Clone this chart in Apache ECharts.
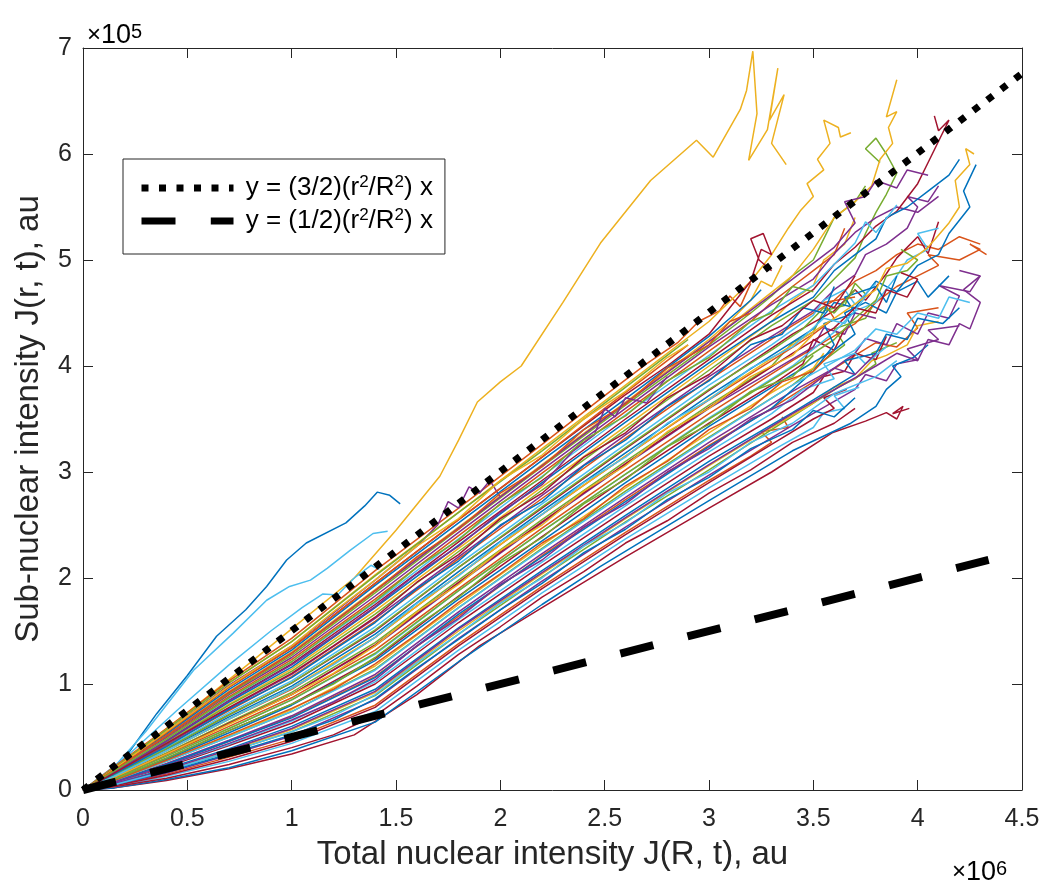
<!DOCTYPE html>
<html>
<head>
<meta charset="utf-8">
<script src="https://cdn.jsdelivr.net/npm/echarts@6/dist/echarts.min.js"></script>
<style>
html,body{margin:0;padding:0;background:#fff;}
#chart{width:1044px;height:888px;}
</style>
</head>
<body>
<div id="chart"></div>
<script>
// Units: x in 1e6 au, y in 1e5 au (as the axis multipliers show)
const xTicks = [0, 0.5, 1, 1.5, 2, 2.5, 3, 3.5, 4, 4.5];
const yTicks = [0, 1, 2, 3, 4, 5, 6, 7];
const colorNames = ['blue', 'orange', 'yellow', 'purple', 'green', 'cyan', 'red'];
const colors = ['#0072BD', '#D95319', '#EDB120', '#7E2F8E', '#77AC30', '#4DBEEE', '#A2142F'];

const dottedLine = [[0, 0], [4.5, 6.76]];
const dashedLine = [[0, 0], [4.34, 2.17]];
const dottedName = 'y = (3/2)(r2/R2) x';
const dashedName = 'y = (1/2)(r2/R2) x';

// trajectories: flat lists x0,y0,x1,y1,...
const trajBlue = [
  [0,0, 0.1,0.12, 0.2,0.3, 0.353,0.72, 0.5,1.08, 0.64,1.45, 0.78,1.70, 0.88,1.92, 0.976,2.17, 1.07,2.33, 1.26,2.52, 1.35,2.68, 1.41,2.81, 1.47,2.78, 1.52,2.70],
  [0,0, 0.15,0.02, 0.4,0.1, 0.7,0.21, 1.0,0.37, 1.4,0.64, 1.8,1.21, 2.2,1.75, 2.48,2.11, 3.0,2.73, 3.4,3.2, 3.68,3.46, 3.8,3.62, 3.85,3.78, 3.92,3.9, 3.88,4.0, 3.98,4.08, 4.05,4.2],
  [0,0, 0.15,0.06, 0.4,0.2, 0.7,0.39, 1.0,0.6, 1.4,0.95, 1.8,1.53, 2.2,2.07, 2.6,2.59, 3.0,3.1, 3.4,3.56, 3.6,3.8, 3.7,3.92, 3.65,4.05, 3.8,4.12, 3.85,4.3, 3.95,4.25, 4.0,4.45, 4.12,4.4, 4.2,4.55],
  [0,0, 0.15,0.1, 0.4,0.29, 0.7,0.54, 1.0,0.8, 1.4,1.22, 1.8,1.8, 2.2,2.35, 2.6,2.9, 3.0,3.43, 3.4,3.92, 3.6,4.15, 3.7,4.3, 3.65,4.5, 3.75,4.6, 3.85,4.5, 3.9,4.7, 4.0,4.8, 4.05,4.65, 4.15,4.85],
  [0,0, 0.15,0.13, 0.4,0.38, 0.7,0.69, 1.0,0.98, 1.4,1.47, 1.8,2.06, 2.2,2.63, 2.6,3.18, 3.0,3.72, 3.3,4.1, 3.5,4.35, 3.6,4.6, 3.7,4.55, 3.8,4.8, 3.9,4.7, 4.0,4.95, 4.1,5.05, 4.15,5.25, 4.25,5.5, 4.22,5.65, 4.28,5.9],
  [0,0, 0.15,0.17, 0.4,0.46, 0.7,0.83, 1.0,1.16, 1.4,1.72, 1.8,2.31, 2.2,2.9, 2.6,3.47, 3.0,4.03, 3.3,4.42, 3.5,4.65, 3.6,4.9, 3.7,5.05, 3.8,5.2, 3.85,5.4, 3.95,5.5, 4.05,5.65, 4.15,5.8, 4.2,5.95],
  [0,0, 0.15,0.2, 0.4,0.53, 0.7,0.95, 1.0,1.32, 1.4,1.93, 1.8,2.52, 2.2,3.11, 2.6,3.69, 3.0,4.28, 3.1,4.45, 3.2,4.62, 3.25,4.72],
  [0,0, 0.15,0.08, 0.4,0.24, 0.7,0.46, 1.0,0.68, 1.4,1.06, 1.8,1.66, 2.2,2.2, 2.6,2.72, 3.0,3.24, 3.3,3.6, 3.5,3.95, 3.6,4.2, 3.55,4.4, 3.7,4.5, 3.65,4.65, 3.8,4.75, 3.85,4.6, 3.9,4.85],
  [0,0, 0.15,0.05, 0.4,0.17, 0.7,0.34, 1.0,0.52, 1.2,0.66, 1.4,0.86, 1.6,1.15, 1.8,1.42, 2.0,1.7, 2.2,1.95, 2.4,2.24, 2.6,2.46, 2.8,2.74, 3.0,2.95, 3.2,3.22, 3.4,3.4, 3.5,3.58, 3.6,3.52, 3.7,3.7],
  [0,0, 0.15,0.15, 0.4,0.41, 0.7,0.76, 1.0,1.06, 1.2,1.32, 1.4,1.58, 1.6,1.9, 1.8,2.16, 2.0,2.5, 2.2,2.72, 2.4,3.06, 2.6,3.3, 2.8,3.62, 3.0,3.86, 3.2,4.2, 3.35,4.3, 3.45,4.55, 3.55,4.5, 3.6,4.75]
];
const trajOrange = [
  [0,0, 0.15,0.04, 0.4,0.15, 0.7,0.31, 1.0,0.48, 1.4,0.8, 1.8,1.38, 2.2,1.92, 2.6,2.43, 3.0,2.92, 3.2,3.15, 3.3,3.28, 3.25,3.38, 3.38,3.42, 3.35,3.52],
  [0,0, 0.15,0.08, 0.4,0.24, 0.7,0.46, 1.0,0.69, 1.4,1.07, 1.8,1.64, 2.2,2.21, 2.6,2.74, 3.0,3.25, 3.3,3.6, 3.5,3.85, 3.7,4.1, 3.8,4.22, 3.9,4.18, 4.0,4.36, 3.95,4.5, 4.1,4.55],
  [0,0, 0.15,0.11, 0.4,0.33, 0.7,0.6, 1.0,0.87, 1.4,1.32, 1.8,1.9, 2.2,2.47, 2.6,3.02, 3.0,3.55, 3.4,4.05, 3.7,4.4, 3.8,4.6, 3.9,4.75, 4.0,4.85, 4.1,4.95, 4.05,5.05, 4.2,5.0, 4.3,5.1, 4.25,5.15, 4.33,5.05],
  [0,0, 0.15,0.15, 0.4,0.42, 0.7,0.75, 1.0,1.07, 1.4,1.59, 1.8,2.18, 2.2,2.75, 2.6,3.32, 3.0,3.87, 3.4,4.38, 3.6,4.62, 3.7,4.8, 3.8,4.9, 3.9,5.05, 4.0,5.15, 4.1,5.1, 4.2,5.22, 4.3,5.15],
  [0,0, 0.15,0.18, 0.4,0.49, 0.7,0.88, 1.0,1.23, 1.4,1.8, 1.8,2.4, 2.2,2.99, 2.6,3.57, 3.0,4.14, 3.2,4.42, 3.3,4.6, 3.4,4.75, 3.5,4.9, 3.6,5.05, 3.65,5.3],
  [0,0, 0.15,0.22, 0.4,0.58, 0.7,1.03, 1.0,1.43, 1.4,2.07, 1.8,2.66, 2.2,3.26, 2.5,3.72, 2.7,4.02, 2.85,4.22, 2.95,4.42, 3.05,4.52, 3.1,4.66, 3.15,4.56, 3.2,4.78],
  [0,0, 0.15,0.13, 0.4,0.37, 0.7,0.67, 1.0,0.95, 1.4,1.44, 1.8,2.03, 2.2,2.6, 2.6,3.15, 3.0,3.68, 3.3,4.05, 3.5,4.3, 3.6,4.45, 3.55,4.6, 3.7,4.65],
  [0,0, 0.15,0.2, 0.4,0.54, 0.7,0.97, 1.0,1.34, 1.4,1.95, 1.8,2.55, 2.2,3.14, 2.5,3.6, 2.7,3.9, 2.8,4.05, 2.9,4.2],
  [0,0, 0.15,0.09, 0.4,0.28, 0.7,0.52, 1.0,0.77, 1.2,0.95, 1.4,1.19, 1.6,1.47, 1.8,1.77, 2.0,2.04, 2.2,2.33, 2.4,2.56, 2.6,2.87, 2.8,3.1, 3.0,3.4, 3.2,3.6, 3.35,3.85, 3.5,3.95, 3.6,4.15],
  [0,0, 0.15,0.19, 0.4,0.51, 0.7,0.92, 1.0,1.29, 1.2,1.58, 1.4,1.88, 1.6,2.2, 1.8,2.46, 2.0,2.8, 2.2,3.05, 2.4,3.4, 2.6,3.64, 2.8,3.98, 3.0,4.2, 3.1,4.42, 3.2,4.5]
];
const trajYellow = [
  [0,0, 0.2,0.28, 0.5,0.73, 0.8,1.2, 1.0,1.52, 1.3,2.0, 1.5,2.45, 1.71,2.96, 1.8,3.3, 1.89,3.66, 2.0,3.85, 2.1,4.0, 2.3,4.6, 2.48,5.16, 2.72,5.75, 2.94,6.13, 3.02,5.97, 3.15,6.42, 3.18,6.6, 3.21,6.97, 3.23,6.38, 3.19,5.94, 3.28,6.23, 3.33,6.81, 3.29,6.32, 3.36,6.56, 3.3,6.1, 3.37,5.9],
  [0,0, 0.15,0.06, 0.4,0.19, 0.7,0.37, 1.0,0.57, 1.4,0.92, 1.8,1.5, 2.2,2.04, 2.6,2.56, 3.0,3.06, 3.3,3.42, 3.5,3.65, 3.6,3.8, 3.7,3.88, 3.78,4.05, 3.85,4.1, 3.95,4.2, 4.0,4.38, 4.1,4.42],
  [0,0, 0.15,0.09, 0.4,0.28, 0.7,0.51, 1.0,0.76, 1.4,1.17, 1.8,1.75, 2.2,2.31, 2.6,2.85, 3.0,3.37, 3.3,3.75, 3.5,3.98, 3.55,4.12],
  [0,0, 0.15,0.16, 0.4,0.45, 0.7,0.81, 1.0,1.14, 1.4,1.69, 1.8,2.28, 2.2,2.86, 2.6,3.43, 3.0,4.0, 3.3,4.42, 3.4,4.62, 3.5,4.76, 3.55,5.0, 3.65,5.15, 3.7,5.4],
  [0,0, 0.15,0.19, 0.4,0.52, 0.7,0.93, 1.0,1.3, 1.4,1.89, 1.8,2.48, 2.2,3.07, 2.6,3.66, 3.0,4.25, 3.1,4.42, 3.2,4.62, 3.25,4.8, 3.3,4.75, 3.35,4.95],
  [0,0, 0.15,0.21, 0.4,0.57, 0.7,1.01, 1.0,1.4, 1.4,2.03, 1.8,2.62, 2.2,3.22, 2.6,3.82, 3.0,4.42, 3.2,4.8, 3.3,5.05, 3.38,5.3, 3.44,5.47, 3.5,5.6, 3.47,5.72, 3.55,5.85, 3.52,5.95, 3.58,6.1, 3.55,6.32, 3.62,6.25, 3.63,6.16, 3.68,6.2],
  [0,0, 0.15,0.19, 0.4,0.51, 0.7,0.92, 1.0,1.29, 1.4,1.88, 1.8,2.47, 2.2,3.06, 2.6,3.65, 3.0,4.23, 3.4,4.85, 3.5,5.1, 3.6,5.4, 3.7,5.55, 3.78,5.7, 3.82,5.95, 3.88,6.1, 3.86,6.25, 3.9,6.4, 3.85,6.35, 3.9,6.7],
  [0,0, 0.15,0.13, 0.4,0.37, 0.7,0.67, 1.0,0.96, 1.4,1.44, 1.8,2.03, 2.2,2.6, 2.6,3.15, 3.0,3.69, 3.4,4.2, 3.6,4.45, 3.8,4.72, 3.85,4.92, 3.95,4.97, 4.05,5.12, 4.15,5.35, 4.2,5.5, 4.18,5.75, 4.25,5.9, 4.23,6.05, 4.27,6.0],
  [0,0, 0.15,0.2, 0.4,0.55, 0.7,0.98, 1.0,1.36, 1.2,1.68, 1.4,1.98, 1.6,2.3, 1.8,2.56, 2.0,2.92, 2.2,3.16, 2.4,3.5, 2.6,3.76, 2.8,4.08, 2.9,4.2],
  [0,0, 0.15,0.12, 0.4,0.34, 0.7,0.62, 1.0,0.9, 1.2,1.1, 1.4,1.36, 1.6,1.68, 1.8,1.94, 2.0,2.26, 2.2,2.5, 2.4,2.82, 2.6,3.06, 2.8,3.38, 3.0,3.6, 3.2,3.9, 3.4,4.1, 3.5,4.3]
];
const trajPurple = [
  [0,0, 0.15,0.05, 0.4,0.16, 0.7,0.33, 1.0,0.51, 1.4,0.85, 1.8,1.43, 2.2,1.97, 2.6,2.48, 3.0,2.97, 3.4,3.44, 3.7,3.78, 3.75,3.92, 3.85,3.86, 3.9,4.02, 4.0,4.06, 3.95,4.16, 4.1,4.25, 4.05,4.34, 4.2,4.38],
  [0,0, 0.15,0.08, 0.4,0.25, 0.7,0.47, 1.0,0.7, 1.4,1.09, 1.8,1.68, 2.2,2.23, 2.6,2.76, 3.0,3.28, 3.4,3.76, 3.6,3.98, 3.7,4.12, 3.75,4.26, 3.85,4.2, 3.9,4.4, 4.0,4.3, 4.05,4.5, 4.15,4.45, 4.2,4.66, 4.1,4.76, 4.25,4.7, 4.3,4.85, 4.2,4.9],
  [0,0, 0.15,0.12, 0.4,0.34, 0.7,0.63, 1.0,0.9, 1.4,1.36, 1.8,1.95, 2.2,2.52, 2.6,3.07, 3.0,3.6, 3.3,3.95, 3.5,4.18, 3.55,4.36, 3.65,4.3, 3.7,4.5, 3.8,4.45],
  [0,0, 0.15,0.15, 0.4,0.43, 0.7,0.77, 1.0,1.09, 1.4,1.62, 1.8,2.2, 2.2,2.78, 2.6,3.35, 3.0,3.9, 3.3,4.28, 3.5,4.52, 3.6,4.72, 3.7,4.86, 3.75,5.05, 3.85,5.15, 3.95,5.3, 4.0,5.5, 3.95,5.6, 4.05,5.55, 4.1,5.7],
  [0,0, 0.15,0.19, 0.4,0.5, 0.7,0.9, 1.0,1.25, 1.4,1.83, 1.8,2.43, 2.2,3.02, 2.6,3.6, 3.0,4.18, 3.3,4.58, 3.5,4.82, 3.6,5.06, 3.7,5.26, 3.8,5.4, 3.9,5.5, 4.0,5.45, 4.1,5.6],
  [0,0, 0.15,0.2, 0.4,0.55, 0.7,0.99, 1.0,1.36, 1.4,1.98, 1.6,2.3, 1.7,2.5, 1.75,2.72, 1.8,2.66, 1.85,2.86, 1.9,2.8, 1.95,2.92, 2.0,2.76],
  [0,0, 0.15,0.06, 0.4,0.19, 0.7,0.38, 1.0,0.58, 1.4,0.93, 1.8,1.52, 2.2,2.05, 2.6,2.57, 3.0,3.07, 3.4,3.55, 3.8,4.0, 3.9,4.12, 4.0,4.05, 4.05,4.25, 4.15,4.2, 4.2,4.4, 4.25,4.35, 4.3,4.6, 4.22,4.72, 4.3,4.85],
  [0,0, 0.15,0.19, 0.4,0.51, 0.7,0.92, 1.0,1.29, 1.4,1.88, 1.8,2.47, 2.2,3.06, 2.6,3.65, 3.0,4.23, 3.4,4.82, 3.6,5.12, 3.7,5.35, 3.65,5.55, 3.75,5.6, 3.8,5.75, 3.9,5.68, 3.95,5.85, 4.05,5.8],
  [0,0, 0.15,0.07, 0.4,0.23, 0.7,0.44, 1.0,0.66, 1.2,0.83, 1.4,1.04, 1.6,1.36, 1.8,1.62, 2.0,1.94, 2.2,2.17, 2.4,2.48, 2.6,2.7, 2.8,3.0, 3.0,3.22, 3.2,3.5, 3.4,3.68, 3.6,3.98, 3.7,3.92, 3.8,4.12],
  [0,0, 0.15,0.17, 0.4,0.46, 0.7,0.84, 1.0,1.18, 1.2,1.45, 1.4,1.73, 1.6,2.04, 1.8,2.3, 2.0,2.62, 2.2,2.88, 2.35,3.2, 2.45,3.35, 2.5,3.6, 2.55,3.52, 2.6,3.7, 2.7,3.65, 2.8,3.9]
];
const trajGreen = [
  [0,0, 0.15,0.05, 0.4,0.18, 0.7,0.36, 1.0,0.55, 1.4,0.89, 1.8,1.47, 2.2,2.01, 2.6,2.53, 3.0,3.02, 3.3,3.4, 3.5,3.65, 3.62,3.8, 3.7,3.88, 3.8,4.02, 3.78,4.12, 3.9,4.22],
  [0,0, 0.15,0.09, 0.4,0.27, 0.7,0.5, 1.0,0.74, 1.4,1.14, 1.8,1.72, 2.2,2.28, 2.6,2.82, 3.0,3.33, 3.4,3.82, 3.55,4.05, 3.65,4.2, 3.6,4.35, 3.75,4.45, 3.8,4.62],
  [0,0, 0.15,0.12, 0.4,0.35, 0.7,0.64, 1.0,0.92, 1.4,1.39, 1.8,1.98, 2.2,2.55, 2.6,3.1, 3.0,3.63, 3.3,4.0, 3.4,4.22, 3.5,4.32, 3.55,4.52, 3.65,4.57, 3.7,4.78, 3.75,4.68],
  [0,0, 0.15,0.16, 0.4,0.44, 0.7,0.8, 1.0,1.12, 1.4,1.66, 1.8,2.25, 2.2,2.83, 2.6,3.4, 3.0,3.96, 3.3,4.38, 3.5,4.62, 3.6,4.82, 3.7,5.02, 3.75,5.25, 3.8,5.45, 3.85,5.62, 3.9,5.82, 3.85,6.0, 3.8,6.15, 3.75,6.05, 3.82,5.92],
  [0,0, 0.15,0.19, 0.4,0.51, 0.7,0.91, 1.0,1.27, 1.4,1.86, 1.8,2.46, 2.2,3.05, 2.6,3.63, 3.0,4.2, 3.2,4.5, 3.3,4.66, 3.4,4.85, 3.5,5.0, 3.55,5.2, 3.6,5.4, 3.7,5.55, 3.75,5.7],
  [0,0, 0.15,0.21, 0.4,0.57, 0.7,1.01, 1.0,1.4, 1.4,2.02, 1.8,2.62, 2.2,3.2, 2.5,3.65, 2.7,3.95, 2.8,4.1, 2.9,4.25],
  [0,0, 0.15,0.11, 0.4,0.32, 0.7,0.58, 1.0,0.85, 1.4,1.29, 1.8,1.88, 2.2,2.44, 2.6,2.98, 3.0,3.5, 3.4,3.99, 3.6,4.25, 3.7,4.45, 3.8,4.62, 3.85,4.85, 3.95,4.9, 4.0,5.0, 3.92,5.1],
  [0,0, 0.15,0.14, 0.4,0.39, 0.7,0.71, 1.0,1.01, 1.4,1.51, 1.8,2.1, 2.2,2.67, 2.6,3.23, 3.0,3.78, 3.3,4.15, 3.45,4.35, 3.55,4.55, 3.6,4.5, 3.7,4.72],
  [0,0, 0.15,0.1, 0.4,0.3, 0.7,0.56, 1.0,0.81, 1.2,1.0, 1.4,1.25, 1.6,1.55, 1.8,1.82, 2.0,2.14, 2.2,2.38, 2.4,2.7, 2.6,2.93, 2.8,3.24, 3.0,3.45, 3.2,3.76, 3.4,3.9, 3.5,4.1],
  [0,0, 0.15,0.18, 0.4,0.48, 0.7,0.87, 1.0,1.21, 1.2,1.5, 1.4,1.78, 1.6,2.1, 1.8,2.36, 2.0,2.7, 2.2,2.95, 2.4,3.3, 2.6,3.53, 2.8,3.86, 3.0,4.08, 3.2,4.42, 3.3,4.5, 3.4,4.75, 3.5,4.7]
];
const trajCyan = [
  [0,0, 0.15,0.22, 0.3,0.55, 0.53,1.13, 0.72,1.48, 0.88,1.79, 0.99,1.92, 1.09,1.98, 1.17,2.09, 1.28,2.26, 1.39,2.42, 1.46,2.44],
  [0,0, 0.2,0.3, 0.45,0.75, 0.7,1.18, 0.9,1.5, 1.05,1.72, 1.15,1.85, 1.22,1.84, 1.3,2.0, 1.38,2.12, 1.42,2.08],
  [0,0, 0.15,0.03, 0.4,0.13, 0.7,0.27, 1.0,0.44, 1.4,0.74, 1.8,1.32, 2.2,1.86, 2.6,2.37, 3.0,2.85, 3.3,3.2, 3.5,3.42, 3.55,3.56, 3.65,3.6, 3.6,3.72, 3.72,3.8],
  [0,0, 0.15,0.07, 0.4,0.23, 0.7,0.43, 1.0,0.65, 1.4,1.02, 1.8,1.61, 2.2,2.15, 2.6,2.68, 3.0,3.19, 3.3,3.55, 3.45,3.78, 3.6,3.88, 3.55,4.02, 3.7,4.12, 3.75,4.02, 3.85,4.18],
  [0,0, 0.15,0.11, 0.4,0.32, 0.7,0.58, 1.0,0.85, 1.4,1.28, 1.8,1.88, 2.2,2.44, 2.6,2.98, 3.0,3.51, 3.4,4.0, 3.6,4.32, 3.7,4.52, 3.8,4.6, 3.9,4.85, 3.95,5.0, 4.05,5.1, 4.0,5.25, 4.1,5.3],
  [0,0, 0.15,0.14, 0.4,0.4, 0.7,0.73, 1.0,1.03, 1.4,1.54, 1.8,2.13, 2.2,2.7, 2.6,3.26, 3.0,3.82, 3.3,4.2, 3.5,4.48, 3.55,4.62, 3.65,4.72, 3.7,4.58, 3.8,4.78],
  [0,0, 0.15,0.18, 0.4,0.48, 0.7,0.86, 1.0,1.21, 1.4,1.77, 1.8,2.37, 2.2,2.96, 2.6,3.54, 3.0,4.1, 3.3,4.52, 3.5,4.76, 3.6,4.96, 3.7,5.16, 3.75,5.36, 3.8,5.26, 3.9,5.52],
  [0,0, 0.15,0.09, 0.4,0.27, 0.7,0.5, 1.0,0.74, 1.4,1.13, 1.8,1.72, 2.2,2.27, 2.6,2.8, 3.0,3.32, 3.4,3.82, 3.7,4.15, 3.8,4.35, 3.9,4.3, 4.0,4.5, 4.1,4.45, 4.15,4.65, 4.25,4.6],
  [0,0, 0.15,0.05, 0.4,0.18, 0.7,0.36, 1.0,0.55, 1.2,0.7, 1.4,0.9, 1.6,1.2, 1.8,1.47, 2.0,1.76, 2.2,2.0, 2.4,2.3, 2.6,2.52, 2.8,2.8, 3.0,3.0, 3.2,3.28, 3.4,3.46, 3.6,3.74, 3.8,3.9, 3.9,4.05],
  [0,0, 0.15,0.13, 0.4,0.37, 0.7,0.67, 1.0,0.96, 1.2,1.18, 1.4,1.44, 1.6,1.76, 1.8,2.02, 2.0,2.34, 2.2,2.6, 2.4,2.9, 2.6,3.14, 2.8,3.46, 3.0,3.68, 3.2,3.98, 3.4,4.18, 3.55,4.45, 3.65,4.4, 3.75,4.65]
];
const trajRed = [
  [0,0, 0.15,0.02, 0.4,0.09, 0.7,0.2, 1.0,0.34, 1.3,0.52, 1.6,0.9, 1.9,1.36, 2.2,1.72, 2.6,2.2, 3.0,2.66, 3.3,3.0, 3.59,3.37, 3.75,3.48, 3.85,3.56, 3.9,3.5, 3.93,3.62, 3.88,3.55, 3.96,3.6],
  [0,0, 0.15,0.07, 0.4,0.22, 0.7,0.42, 1.0,0.63, 1.4,1.0, 1.8,1.58, 2.2,2.12, 2.6,2.64, 3.0,3.15, 3.3,3.5, 3.5,3.75, 3.55,3.9, 3.65,3.95, 3.7,4.12, 3.8,4.06, 3.85,4.28],
  [0,0, 0.15,0.1, 0.4,0.3, 0.7,0.56, 1.0,0.81, 1.4,1.24, 1.8,1.83, 2.2,2.39, 2.6,2.94, 3.0,3.46, 3.3,3.82, 3.45,4.02, 3.5,4.25, 3.6,4.15, 3.65,4.35],
  [0,0, 0.15,0.14, 0.4,0.39, 0.7,0.71, 1.0,1.01, 1.4,1.5, 1.8,2.1, 2.2,2.66, 2.6,3.22, 3.0,3.77, 3.4,4.3, 3.6,4.52, 3.7,4.72, 3.75,4.62, 3.85,4.87, 3.9,5.02, 4.0,5.22, 4.05,5.06, 4.1,5.36],
  [0,0, 0.15,0.17, 0.4,0.47, 0.7,0.85, 1.0,1.19, 1.4,1.75, 1.8,2.34, 2.2,2.92, 2.6,3.5, 3.0,4.06, 3.3,4.48, 3.5,4.72, 3.6,4.96, 3.7,5.12, 3.8,5.32, 3.9,5.46, 4.0,5.72, 4.05,5.92, 4.1,6.12, 4.15,6.32, 4.1,6.22, 4.08,6.36],
  [0,0, 0.15,0.2, 0.4,0.54, 0.7,0.97, 1.0,1.34, 1.4,1.95, 1.8,2.55, 2.2,3.14, 2.6,3.73, 2.8,4.0, 2.9,4.15, 3.0,4.3, 3.1,4.55, 3.2,4.8, 3.25,5.1, 3.3,5.05, 3.26,5.25, 3.2,5.2, 3.24,5.0, 3.3,4.9],
  [0,0, 0.15,0.04, 0.4,0.14, 0.7,0.29, 1.0,0.46, 1.4,0.78, 1.8,1.36, 2.2,1.9, 2.6,2.41, 3.0,2.9, 3.3,3.26, 3.5,3.5, 3.6,3.6, 3.55,3.7, 3.66,3.78],
  [0,0, 0.15,0.12, 0.4,0.34, 0.7,0.63, 1.0,0.9, 1.4,1.37, 1.8,1.96, 2.2,2.53, 2.6,3.08, 3.0,3.61, 3.4,4.12, 3.6,4.36, 3.7,4.55, 3.8,4.5, 3.85,4.72, 3.95,4.65, 4.0,4.82, 3.92,4.88],
  [0,0, 0.15,0.03, 0.4,0.11, 0.7,0.24, 1.0,0.4, 1.2,0.52, 1.4,0.7, 1.6,0.98, 1.8,1.28, 2.0,1.54, 2.2,1.82, 2.4,2.06, 2.6,2.33, 2.8,2.54, 3.0,2.8, 3.2,3.02, 3.4,3.28, 3.6,3.46, 3.7,3.6],
  [0,0, 0.15,0.16, 0.4,0.44, 0.7,0.78, 1.0,1.1, 1.2,1.36, 1.4,1.63, 1.6,1.96, 1.8,2.22, 2.0,2.56, 2.2,2.8, 2.4,3.14, 2.6,3.37, 2.8,3.7, 3.0,3.92, 3.2,4.25, 3.35,4.38, 3.5,4.62, 3.6,4.55, 3.7,4.85]
];

const groups = [trajBlue, trajOrange, trajYellow, trajPurple, trajGreen, trajCyan, trajRed];

function toPairs(flat) {
  const out = [];
  for (let i = 0; i < flat.length; i += 2) out.push([flat[i], flat[i + 1]]);
  return out;
}

const FONT = "'Liberation Sans', Arial, Helvetica, sans-serif";
const TXT = '#262626';

const series = [];
const maxLen = Math.max(...groups.map(g => g.length));
for (let i = 0; i < maxLen; i++) {
  groups.forEach((g, gi) => {
    if (g[i]) {
      series.push({
        type: 'line',
        name: colorNames[gi] + i,
        data: toPairs(g[i]),
        showSymbol: false,
        symbol: 'none',
        silent: true,
        lineStyle: { color: colors[gi], width: 1.5 },
        itemStyle: { color: colors[gi] },
        z: 2
      });
    }
  });
}
series.push({
  type: 'line', name: dottedName, data: dottedLine, symbol: 'none', silent: true,
  lineStyle: { color: '#000', width: 7, type: [7, 10.5], cap: 'butt' },
  itemStyle: { color: '#000' }, z: 4
});
series.push({
  type: 'line', name: dashedName, data: dashedLine, symbol: 'none', silent: true,
  lineStyle: { color: '#000', width: 8, type: [34, 35.3], cap: 'butt' },
  itemStyle: { color: '#000' }, z: 4
});

const legendRich = {
  t: { fontSize: 26, lineHeight: 28, color: '#000', fontFamily: FONT },
  s: { fontSize: 17, lineHeight: 12, verticalAlign: 'top', color: '#000', fontFamily: FONT }
};

const expRich = {
  x: { fontSize: 24, lineHeight: 26, color: '#555', fontFamily: FONT },
  b: { fontSize: 27, lineHeight: 26, color: TXT, fontFamily: FONT },
  s: { fontSize: 20, lineHeight: 8, verticalAlign: 'top', color: TXT, fontFamily: FONT }
};

const chart = echarts.init(document.getElementById('chart'), null, { renderer: 'canvas' });
chart.setOption({
  animation: false,
  backgroundColor: '#fff',
  textStyle: { fontFamily: FONT },
  grid: { left: 83, right: 22, top: 48, bottom: 98, containLabel: false },
  legend: {
    data: [dottedName, dashedName],
    orient: 'vertical',
    left: 123, top: 159,
    padding: [15, 12, 20, 15],
    itemWidth: 92, itemHeight: 10, itemGap: 6,
    backgroundColor: '#fff',
    borderColor: TXT, borderWidth: 1,
    selectedMode: false,
    lineStyle: { width: 7 },
    itemStyle: { color: 'rgba(0,0,0,0)', borderWidth: 0, opacity: 0 },
    formatter: function (name) {
      const frac = name === dottedName ? '3/2' : '1/2';
      return '{t| y = (' + frac + ')(r}{s|2}{t|/R}{s|2}{t|) x}';
    },
    textStyle: { rich: legendRich, color: '#000' }
  },
  xAxis: [{
    type: 'value', min: 0, max: 4.5, interval: 0.5,
    name: 'Total nuclear intensity J(R, t), au',
    nameLocation: 'middle', nameGap: 48,
    nameTextStyle: { fontSize: 33, color: TXT, fontFamily: FONT },
    axisLine: { show: true, lineStyle: { color: TXT, width: 1 } },
    axisTick: { show: true, inside: true, length: 10, lineStyle: { color: TXT } },
    axisLabel: { fontSize: 25, color: TXT, margin: 17, fontFamily: FONT,
      formatter: v => { const i = xTicks.indexOf(v); return i >= 0 ? String(xTicks[i]) : ''; } },
    splitLine: { show: false }
  }, {
    type: 'value', min: 0, max: 4.5, interval: 0.5, position: 'top',
    axisLine: { show: true, onZero: false, lineStyle: { color: TXT, width: 1 } },
    axisTick: { show: true, inside: true, length: 10, lineStyle: { color: TXT } },
    axisLabel: { show: false }, splitLine: { show: false }
  }],
  yAxis: [{
    type: 'value', min: 0, max: 7, interval: 1,
    name: 'Sub-nuclear intensity J(r, t), au',
    nameLocation: 'middle', nameGap: 38,
    nameTextStyle: { fontSize: 33, color: TXT, fontFamily: FONT },
    axisLine: { show: true, lineStyle: { color: TXT, width: 1 } },
    axisTick: { show: true, inside: true, length: 10, lineStyle: { color: TXT } },
    axisLabel: { fontSize: 25, color: TXT, margin: 11, fontFamily: FONT,
      formatter: v => { const i = yTicks.indexOf(v); return i >= 0 ? String(yTicks[i]) : ''; } },
    splitLine: { show: false }
  }, {
    type: 'value', min: 0, max: 7, interval: 1, position: 'right',
    axisLine: { show: true, onZero: false, lineStyle: { color: TXT, width: 1 } },
    axisTick: { show: true, inside: true, length: 10, lineStyle: { color: TXT } },
    axisLabel: { show: false }, splitLine: { show: false }
  }],
  graphic: [{
    type: 'text', left: 87, top: 22, silent: true,
    style: { text: '{x|×}{b|10}{s|5}', rich: expRich }
  }, {
    type: 'text', left: 952, top: 859, silent: true,
    style: { text: '{x|×}{b|10}{s|6}', rich: expRich }
  }],
  series: series
});
</script>
</body>
</html>
